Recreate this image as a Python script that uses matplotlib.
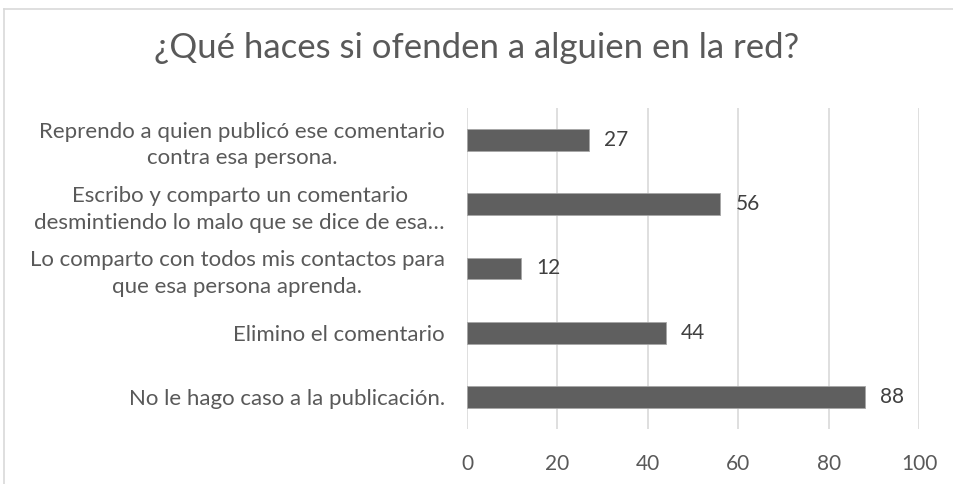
import matplotlib
matplotlib.use('Agg')
import matplotlib.pyplot as plt
from matplotlib.lines import Line2D

# chart data
categories = ['Reprendo a quien publicó ese comentario\ncontra esa persona.',
              'Escribo y comparto un comentario\ndesmintiendo lo malo que se dice de esa…',
              'Lo comparto con todos mis contactos para\nque esa persona aprenda.',
              'Elimino el comentario',
              'No le hago caso a la publicación.']
values = [27, 56, 12, 44, 88]
xticks = [0, 20, 40, 60, 80, 100]
title = '¿Qué haces si ofenden a alguien en la red?'

txt = '#595959'
matplotlib.rc('font', family=['Lato', 'DejaVu Sans'])

fig = plt.figure(figsize=(9.54, 4.84), dpi=100)
ax = fig.add_axes([0.4895, 0.1136, 0.4738, 0.6633])

y = range(len(categories))
ax.barh(y, values, height=0.34, color='#5f5f5f', edgecolor='#a6a6a6', linewidth=0.6, zorder=3)
for i, v in zip(y, values):
    ax.annotate(str(v), (v, i), xytext=(11, 0), textcoords='offset points',
                va='center', ha='left', fontsize=15, color='#404040')

ax.set_xlim(0, 100)
ax.set_ylim(len(categories) - 0.5, -0.5)
ax.set_xticks(xticks)
ax.set_xticklabels([str(t) for t in xticks], fontsize=15, color=txt)
ax.set_yticks(list(y))
ax.set_yticklabels(categories, fontsize=16, color=txt, multialignment='center',
                   linespacing=1.4)
ax.tick_params(axis='both', length=0)
ax.tick_params(axis='y', pad=16)
ax.tick_params(axis='x', pad=18)
ax.grid(axis='x', color='#d9d9d9', linewidth=1.2, zorder=0)
for s in ax.spines.values():
    s.set_visible(False)

fig.text(0.5, 0.9, title, ha='center', va='center', fontsize=25, color=txt)

# chart border (top and left edges visible)
fig.add_artist(Line2D([4/954, 1], [1 - 9/484, 1 - 9/484], color='#d9d9d9', lw=1.2))
fig.add_artist(Line2D([4/954, 4/954], [0, 1 - 9/484], color='#d9d9d9', lw=1.2))

fig.savefig('out.png', dpi=100)
